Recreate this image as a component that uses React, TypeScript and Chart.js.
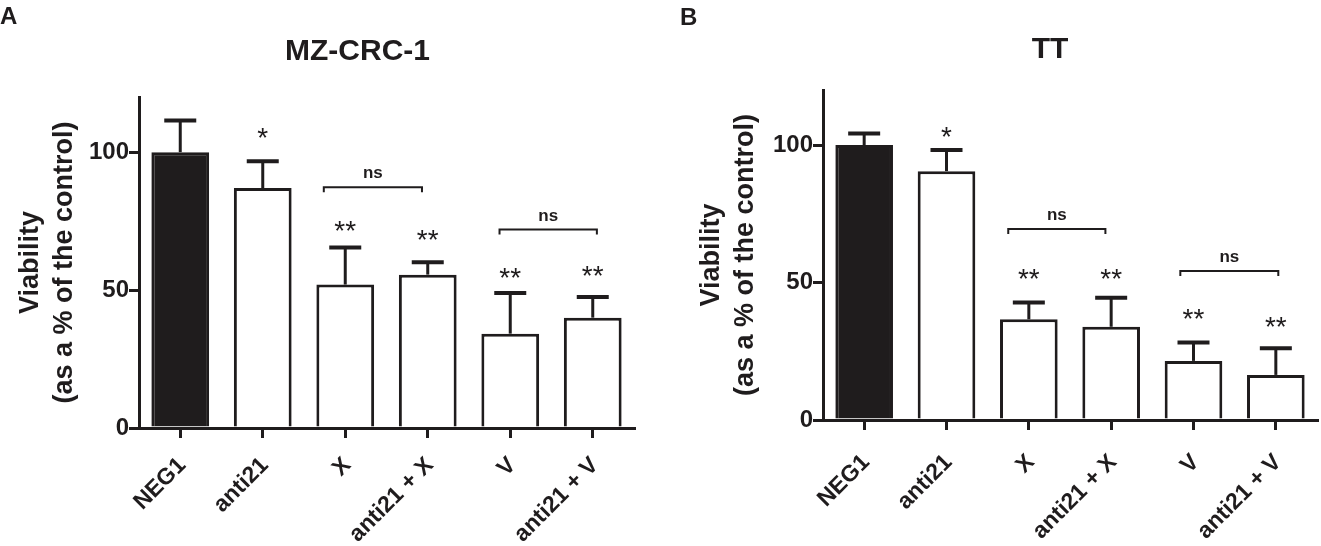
import { useEffect, useRef } from "react";
import Chart, { ChartConfiguration, Plugin } from "chart.js/auto";

const categories = ["NEG1", "anti21", "X", "anti21 + X", "V", "anti21 + V"];
const yTicks = [0, 50, 100];
const yMax = 120;
const yTitle = ["Viability", "(as a % of the control)"];

// MZ-CRC-1 (panel A)
const mzMeans = [100, 87, 52, 55.6, 34.2, 40];
const mzErrors = [11.5, 9.7, 13.4, 4.5, 14.7, 7.5];
const mzStars = ["", "*", "**", "**", "**", "**"];
const mzStarY = [0, 107.8, 73.8, 70.7, 56.8, 57.5];
const mzNsFrom = [2, 4];
const mzNsTo = [3, 5];
const mzNsY = [87.3, 72.0];
const mzNsTextY = [92.4, 76.8];

// TT (panel B)
const ttMeans = [100, 90.5, 36.6, 33.9, 21.5, 16.4];
const ttErrors = [4.2, 7.7, 6.1, 10.6, 6.7, 9.7];
const ttStars = ["", "*", "**", "**", "**", "**"];
const ttStarY = [0, 105.5, 53.7, 53.9, 39.4, 36.4];
const ttNsFrom = [2, 4];
const ttNsTo = [3, 5];
const ttNsY = [69.5, 54.2];
const ttNsTextY = [74.3, 59.0];

const ink = "#1f1c1d";
const family = "'Liberation Sans', Arial, Helvetica, sans-serif";

interface PanelProps {
  letter: string;
  title: string;
  means: number[];
  errors: number[];
  stars: string[];
  starY: number[];
  nsFrom: number[];
  nsTo: number[];
  nsY: number[];
  nsTextY: number[];
  // layout (pixels, relative to the panel canvas)
  left: number;
  width: number;
  areaLeft: number;
  areaTop: number;
  areaRight: number;
  areaBottom: number;
  titleX: number;
  titleBase: number;
  letterX: number;
  letterBase: number;
  yTitlePad: number;
  xLabelPad: number;
  bracketInset: [number, number][];
}

const HEIGHT = 546;

const Panel: React.FC<PanelProps> = (p) => {
  const canvasRef = useRef<HTMLCanvasElement | null>(null);
  const chartRef = useRef<Chart<"bar"> | null>(null);

  useEffect(() => {
    const annotate: Plugin<"bar"> = {
      id: "annotate",
      afterDatasetsDraw(chart) {
        const ctx = chart.ctx;
        const xs = chart.scales.x;
        const ys = chart.scales.y;
        const meta = chart.getDatasetMeta(0);
        ctx.save();
        ctx.strokeStyle = ink;
        ctx.fillStyle = ink;

        // error bars (upper only)
        p.means.forEach((m, i) => {
          const bar = meta.data[i] as any;
          const cx = bar.x;
          const y0 = ys.getPixelForValue(m);
          const y1 = ys.getPixelForValue(m + p.errors[i]);
          ctx.lineWidth = 3;
          ctx.beginPath();
          ctx.moveTo(cx, y0);
          ctx.lineTo(cx, y1);
          ctx.stroke();
          ctx.lineWidth = 4;
          ctx.beginPath();
          ctx.moveTo(cx - 16, y1);
          ctx.lineTo(cx + 16, y1);
          ctx.stroke();
        });

        // significance stars
        ctx.font = `28px ${family}`;
        ctx.textAlign = "center";
        ctx.textBaseline = "alphabetic";
        p.stars.forEach((s, i) => {
          if (!s) return;
          ctx.fillText(s, xs.getPixelForValue(i), ys.getPixelForValue(p.starY[i]) + 0.57 * 28);
        });

        // ns brackets
        const step = xs.getPixelForValue(1) - xs.getPixelForValue(0);
        p.nsFrom.forEach((from, k) => {
          const xl = xs.getPixelForValue(from) + p.bracketInset[k][0] * step;
          const xr = xs.getPixelForValue(p.nsTo[k]) + p.bracketInset[k][1] * step;
          const yb = ys.getPixelForValue(p.nsY[k]);
          ctx.lineWidth = 2;
          ctx.beginPath();
          ctx.moveTo(xl, yb + 5);
          ctx.lineTo(xl, yb);
          ctx.lineTo(xr, yb);
          ctx.lineTo(xr, yb + 5);
          ctx.stroke();
          ctx.font = `bold 17px ${family}`;
          ctx.fillText("ns", (xl + xr) / 2, ys.getPixelForValue(p.nsTextY[k]) + 0.26 * 17);
        });
        ctx.restore();
      },
      afterDraw(chart) {
        const ctx = chart.ctx;
        ctx.save();
        ctx.fillStyle = ink;
        ctx.textBaseline = "alphabetic";
        ctx.textAlign = "center";
        ctx.font = `bold 30px ${family}`;
        ctx.fillText(p.title, p.titleX, p.titleBase);
        ctx.textAlign = "left";
        ctx.font = `bold 24px ${family}`;
        ctx.fillText(p.letter, p.letterX, p.letterBase);
        ctx.restore();
      },
    };

    const config: ChartConfiguration<"bar"> = {
      type: "bar",
      data: {
        labels: categories,
        datasets: [
          {
            data: p.means,
            backgroundColor: p.means.map((_, i) => (i === 0 ? ink : "#ffffff")),
            borderColor: ink,
            borderWidth: 3,
            barPercentage: 0.7,
            categoryPercentage: 1,
          },
        ],
      },
      options: {
        responsive: true,
        maintainAspectRatio: false,
        animation: false,
        layout: {
          padding: { left: 0, top: p.areaTop, right: p.width - p.areaRight, bottom: 0 },
        },
        plugins: {
          legend: { display: false },
          title: { display: false },
          tooltip: { enabled: false },
        },
        scales: {
          x: {
            offset: true,
            grid: {
              display: true,
              drawOnChartArea: false,
              drawTicks: true,
              tickLength: 10,
              lineWidth: 3,
              color: ink,
              offset: false,
            },
            border: { display: true, width: 3, color: ink },
            ticks: {
              color: ink,
              font: { family, size: 23, weight: "bold" },
              minRotation: 45,
              maxRotation: 45,
              autoSkip: false,
              padding: p.xLabelPad,
              labelOffset: 2,
            },
            afterFit: (s: any) => {
              s.height = HEIGHT - p.areaBottom;
            },
          },
          y: {
            min: 0,
            max: yMax,
            grid: {
              drawOnChartArea: false,
              drawTicks: true,
              tickLength: 10,
              lineWidth: 3,
              color: ink,
            },
            border: { display: true, width: 3, color: ink },
            ticks: {
              stepSize: 50,
              padding: 0,
              color: ink,
              font: { family, size: 24, weight: "bold" },
            },
            afterBuildTicks: (s: any) => {
              s.ticks = yTicks.map((v) => ({ value: v }));
            },
            title: {
              display: true,
              text: yTitle,
              color: ink,
              font: { family, size: 27, weight: "bold", lineHeight: 1.25 },
              padding: { top: p.yTitlePad, bottom: 0 },
            },
            afterFit: (s: any) => {
              s.width = p.areaLeft;
            },
          },
        },
      },
      plugins: [annotate],
    };

    if (chartRef.current) chartRef.current.destroy();
    if (canvasRef.current) chartRef.current = new Chart(canvasRef.current, config);

    return () => {
      if (chartRef.current) {
        chartRef.current.destroy();
        chartRef.current = null;
      }
    };
  }, [p]);

  return (
    <div style={{ position: "absolute", left: p.left, top: 0, width: p.width, height: HEIGHT }}>
      <canvas ref={canvasRef} />
    </div>
  );
};

const panelA: PanelProps = {
  letter: "A",
  title: "MZ-CRC-1",
  means: mzMeans,
  errors: mzErrors,
  stars: mzStars,
  starY: mzStarY,
  nsFrom: mzNsFrom,
  nsTo: mzNsTo,
  nsY: mzNsY,
  nsTextY: mzNsTextY,
  left: 0,
  width: 660,
  areaLeft: 139,
  areaTop: 97,
  areaRight: 634,
  areaBottom: 428,
  titleX: 357.5,
  titleBase: 60,
  letterX: 0,
  letterBase: 24,
  yTitlePad: 14,
  xLabelPad: 14,
  bracketInset: [
    [-0.26, -0.07],
    [-0.13, 0.05],
  ],
};

const panelB: PanelProps = {
  letter: "B",
  title: "TT",
  means: ttMeans,
  errors: ttErrors,
  stars: ttStars,
  starY: ttStarY,
  nsFrom: ttNsFrom,
  nsTo: ttNsTo,
  nsY: ttNsY,
  nsTextY: ttNsTextY,
  left: 660,
  width: 661,
  areaLeft: 163,
  areaTop: 90,
  areaRight: 657,
  areaBottom: 420,
  titleX: 390,
  titleBase: 58,
  letterX: 20,
  letterBase: 25,
  yTitlePad: 35,
  xLabelPad: 19,
  bracketInset: [
    [-0.25, -0.07],
    [-0.16, 0.03],
  ],
};

export default function App() {
  return (
    <div
      style={{
        position: "absolute",
        left: 0,
        top: 0,
        width: 1321,
        height: HEIGHT,
        background: "#ffffff",
        overflow: "hidden",
      }}
    >
      <Panel {...panelA} />
      <Panel {...panelB} />
    </div>
  );
}
